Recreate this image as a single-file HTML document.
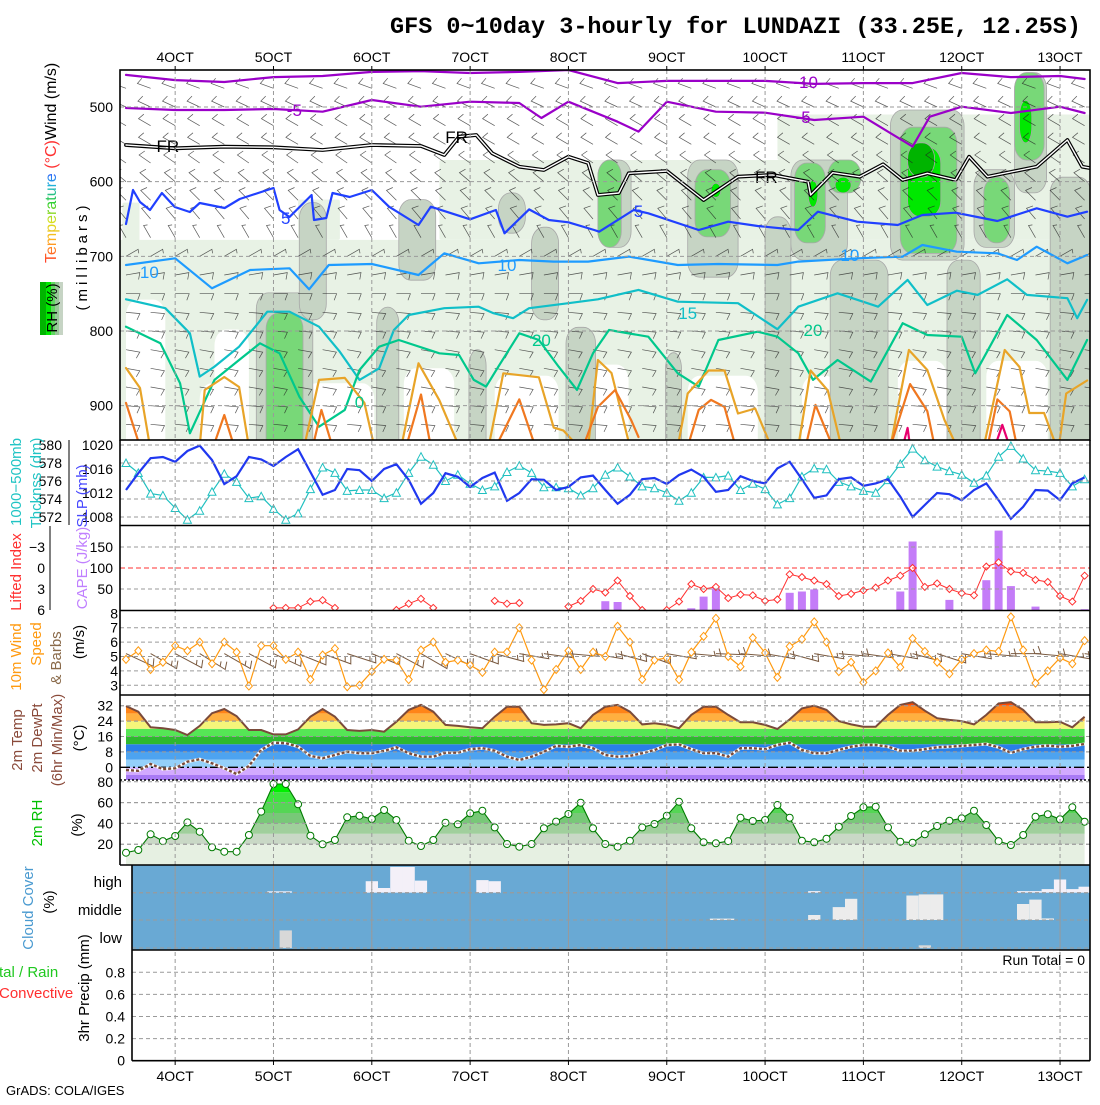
<!DOCTYPE html>
<html><head><meta charset="utf-8">
<style>
body{margin:0;background:#fff;width:1100px;height:1100px;overflow:hidden}
svg text{font-family:"Liberation Sans",sans-serif}
</style></head>
<body>
<svg id="chart" width="1100" height="1100" viewBox="0 0 1100 1100" xmlns="http://www.w3.org/2000/svg">
<defs>
<clipPath id="clipUpper"><rect x="120" y="70" width="970" height="370"/></clipPath>
<clipPath id="clipSlp"><rect x="120" y="440" width="970" height="85.5"/></clipPath>
<clipPath id="clipCape"><rect x="120" y="525.5" width="970" height="85"/></clipPath>
<clipPath id="clipWind"><rect x="120" y="610.5" width="970" height="84.5"/></clipPath>
<clipPath id="clipTempPanel"><rect x="120" y="695" width="970" height="85"/></clipPath>
<clipPath id="clipCloud"><rect x="132" y="865" width="958" height="85"/></clipPath>
<clipPath id="tclip"><polygon id="tclipPoly" points=""/></clipPath>
<clipPath id="rclip"><polygon id="rclipPoly" points=""/></clipPath>
<linearGradient id="rainbow" gradientUnits="userSpaceOnUse" x1="0" y1="0" x2="92" y2="0">
<stop offset="0" stop-color="#ff3a2a"/><stop offset="0.25" stop-color="#ffb020"/><stop offset="0.45" stop-color="#d8e020"/><stop offset="0.65" stop-color="#30d030"/><stop offset="0.85" stop-color="#20b0e0"/><stop offset="1" stop-color="#3050ff"/>
</linearGradient>
</defs>

<text x="1081" y="33" text-anchor="end" font-family="Liberation Mono, monospace" font-weight="bold" font-size="23" textLength="691" lengthAdjust="spacingAndGlyphs" style="font-family:'Liberation Mono',monospace">GFS 0~10day 3-hourly for LUNDAZI (33.25E, 12.25S)</text>

<g id="upper">
  <g id="rhShade" clip-path="url(#clipUpper)"></g>
  <g id="grid"></g>
  <g id="barbsUpper" clip-path="url(#clipUpper)"></g>
  <g id="isotherms" clip-path="url(#clipUpper)"></g>
</g>
<g id="slpPanel" clip-path="url(#clipSlp)"></g>
<g id="capePanel" clip-path="url(#clipCape)"></g>
<g id="windPanel" clip-path="url(#clipWind)"></g>
<g id="tempPanel" clip-path="url(#clipTempPanel)"></g>
<g id="rhPanel"></g>
<g id="cloudPanel" clip-path="url(#clipCloud)">
  <rect x="132" y="865" width="958" height="85" fill="#69a9d4"/>
</g>
<g id="grid2"></g>
<g id="frames" stroke="#000" stroke-width="1.6" fill="none">
  <rect x="120" y="70" width="970" height="370"/>
  <line x1="120" y1="440" x2="120" y2="865"/>
  <line x1="132" y1="865" x2="132" y2="1060.7"/>
  <line x1="1090" y1="440" x2="1090" y2="1060.7"/>
  <line x1="120" y1="525.5" x2="1090" y2="525.5"/>
  <line x1="120" y1="610.5" x2="1090" y2="610.5"/>
  <line x1="120" y1="695" x2="1090" y2="695"/>
  <line x1="120" y1="780" x2="1090" y2="780" stroke-dasharray="2,2"/>
  <line x1="120" y1="865" x2="1090" y2="865"/>
  <line x1="132" y1="950" x2="1090" y2="950"/>
  <line x1="132" y1="1060.7" x2="1090" y2="1060.7"/>
  <line x1="69" y1="440" x2="69" y2="525" stroke-width="1"/>
  <line x1="50" y1="526" x2="50" y2="610" stroke-width="1"/>
</g>
<g id="ticks" font-size="14"></g>

<text transform="translate(56,263) rotate(-90)" font-size="16"><tspan fill="url(#rainbow)">Temperature</tspan><tspan fill="#ff3030"> (°C)</tspan><tspan fill="#000">Wind (m/s)</tspan></text>
<text transform="translate(87,256) rotate(-90)" font-size="15" text-anchor="middle" letter-spacing="4">(millibars)</text>
<g>
  <rect x="40" y="282" width="6" height="53" fill="#00b400"/>
  <rect x="46" y="282" width="5" height="53" fill="#00e800"/>
  <rect x="51" y="282" width="4" height="53" fill="#60d860"/>
  <rect x="55" y="282" width="4" height="53" fill="#98c898"/>
  <rect x="59" y="282" width="4" height="53" fill="#c6d4c4"/>
  <text transform="translate(57,308) rotate(-90)" font-size="15" text-anchor="middle">RH (%)</text>
</g>
<text transform="translate(21,482) rotate(-90)" font-size="15" text-anchor="middle" fill="#20c4c4">1000−500mb</text>
<text transform="translate(41,483) rotate(-90)" font-size="15" text-anchor="middle" fill="#20c4c4">Thcknss (dm)</text>
<text transform="translate(87,496) rotate(-90)" font-size="15" text-anchor="middle" fill="#4848ff">SLP (mb)</text>
<text transform="translate(21,572) rotate(-90)" font-size="15" text-anchor="middle" fill="#ff3030">Lifted Index</text>
<text transform="translate(87,568) rotate(-90)" font-size="15" text-anchor="middle" fill="#c080ff">CAPE (J/kg)</text>
<text transform="translate(21,657) rotate(-90)" font-size="15" text-anchor="middle" fill="#ff9a10">10m Wind</text>
<text transform="translate(41,644) rotate(-90)" font-size="15" text-anchor="middle" fill="#ff9a10">Speed</text>
<text transform="translate(61,658) rotate(-90)" font-size="15" text-anchor="middle" fill="#8a6a4a">&amp; Barbs</text>
<text transform="translate(84,642) rotate(-90)" font-size="15" text-anchor="middle">(m/s)</text>
<text transform="translate(22,740) rotate(-90)" font-size="15" text-anchor="middle" fill="#8a4a3a">2m Temp</text>
<text transform="translate(42,738) rotate(-90)" font-size="15" text-anchor="middle" fill="#8a4a3a">2m DewPt</text>
<text transform="translate(62,740) rotate(-90)" font-size="15" text-anchor="middle" fill="#8a4a3a">(6hr Min/Max)</text>
<text transform="translate(84,738) rotate(-90)" font-size="15" text-anchor="middle">(°C)</text>
<text transform="translate(42,823) rotate(-90)" font-size="15" text-anchor="middle" fill="#00c000">2m RH</text>
<text transform="translate(82,825) rotate(-90)" font-size="15" text-anchor="middle">(%)</text>
<text transform="translate(33,908) rotate(-90)" font-size="15" text-anchor="middle" fill="#4a9ad0">Cloud Cover</text>
<text transform="translate(54,902) rotate(-90)" font-size="15" text-anchor="middle">(%)</text>
<text x="122" y="887" font-size="15" text-anchor="end">high</text>
<text x="122" y="915" font-size="15" text-anchor="end">middle</text>
<text x="122" y="943" font-size="15" text-anchor="end">low</text>
<text transform="translate(89,988) rotate(-90)" font-size="15" text-anchor="middle">3hr Precip (mm)</text>
<text x="-1" y="977" font-size="15" fill="#20c820">tal / Rain</text>
<text x="-1" y="998" font-size="15" fill="#ff3030">Convective</text>
<text x="1085" y="965" font-size="14" text-anchor="end">Run Total = 0</text>
<text x="6" y="1095" font-size="13">GrADS: COLA/IGES</text>
</svg>

<script>
const NS='http://www.w3.org/2000/svg';
// ---------- data ----------
const dayLabels=['4OCT','5OCT','6OCT','7OCT','8OCT','9OCT','10OCT','11OCT','12OCT','13OCT'];
const dayIndex=[4,12,20,28,36,44,52,60,68,76];
const slp=[1012.5,1015.3,1017.8,1018,1017.2,1019,1019.9,1017.5,1013.5,1014.8,
1018,1017.6,1016.5,1018,1019.3,1015.5,1011.7,1012.5,1016,1015.8,
1014,1016,1016.8,1014.2,1010.2,1012,1015.3,1014.7,1013,1014.5,
1015.4,1010.7,1012,1014.3,1014.2,1012.5,1013,1014.6,1014.9,1012.5,
1010.2,1011.7,1014.3,1014.5,1013.5,1015,1015.9,1014.7,1012.2,1012.5,
1014.8,1014,1013.6,1016.1,1017.2,1014.3,1011.2,1011.6,1014.3,1014.6,
1013.2,1013.6,1014.3,1011.4,1008,1010,1012,1011.8,1010.8,1012.5,
1013.6,1010.8,1007.7,1009.7,1012.5,1012.4,1010.8,1013.6,1014.6];
const thickness=[578,576.9,574.6,574.4,573,571.7,572.7,574.8,576.8,575.9,
574.1,574.3,572.9,571.7,572.4,575.1,577.5,576.9,574.9,575,
575,574.1,574.7,576.9,578.7,577.8,576,576.7,575.7,575,
575.4,577,577.7,576.9,575.3,575.3,575.2,574.4,575.2,576.7,
577.5,576.5,575.4,575.2,574.7,573.8,574.7,576.4,576.4,576.6,
575,575.7,575.1,573.4,574.1,576.5,577.4,577.3,575.9,575.4,
574.9,574.7,576.1,577.9,579.6,578.3,577.6,577.1,576.7,575.8,
576.6,578.7,579.9,578.5,577.2,577.1,576.9,575.4,576.2];
const liftedIndex=[null,null,null,null,null,null,null,null,null,null,
null,null,5.7,5.7,5.7,4.8,4.6,5.7,null,null,
null,null,6,5.1,4.4,5.7,null,null,null,null,
4.7,5.1,5,null,null,null,5.5,4.7,3,3.5,
1.8,4,6,null,6,4.8,2.3,3,2.7,4.3,
3.8,3.9,4.7,4.5,0.9,1.3,1.8,2.3,4,3.7,
3.2,2.8,1.8,1.1,0,2.7,2.2,3,3.6,3.9,
-0.2,-0.8,0.5,0.7,1.7,2,4,4.8,1.1];
const capeIdx=[39,40,46,47,48,54,55,56,63,64,67,70,71,72,74,78];
const capeVal=[21,19,4,32,52,41,44,49,44,163,24,71,189,57,8,2];
const windSpeed=[4.8,5.4,4.1,4.6,5.75,5.4,6.0,4.5,6.0,5.3,
2.95,5.75,5.75,4.8,5.3,3.4,5.1,5.55,2.9,3.0,
3.95,4.8,4.75,3.4,5.45,6.0,4.6,4.75,4.4,3.9,
5.3,5.3,7.0,4.75,2.7,4.1,5.4,4.1,5.3,5.0,
7.1,6.0,3.4,4.75,4.9,3.4,5.3,6.4,7.65,5.0,
4.3,6.3,5.25,3.55,5.7,6.2,7.4,6.0,3.95,4.6,
3.2,4.0,5.25,4.25,6.25,5.35,4.6,3.8,4.8,5.2,
5.45,5.35,7.75,5.45,3.15,4.0,4.9,4.5,6.1];
const windDir10=[115,120,118,122,120,118,115,112,110,108,112,118,120,115,110,105,100,98,95,100,105,110,100,95,92,95,100,105,100,95,98,100,105,108,100,95,90,95,100,98];
const temp2m=[31.8,28.9,20.8,20.3,19.4,16.8,21.5,28.1,30.3,26.6,
19.4,19.4,17.1,17.1,19.7,26.3,30.3,26.3,19.4,18.9,
19.4,18.5,23.7,29.8,32.4,28.9,22,21.5,20.8,20.3,
26.3,31.5,31.5,22.9,22,22.3,22.9,20.3,27.2,31.5,
32.4,28.9,22.3,22.9,22,20.3,27.2,31.5,31.5,27.2,
23.4,23.4,22,19.9,24.9,30.6,32,29.8,24,22.3,
21.1,21.1,27.2,32.4,33.8,29.4,25.5,24.6,24,22.3,
27.2,33.2,33.8,29.8,23.4,23.4,23.7,20.8,26.3];
const dew2m=[-1.4,-1.8,1.7,-1,-0.5,2.9,4.2,2.1,-0.5,-3.5,
0.7,9,12.8,12.5,10.7,5.9,4.7,6.4,8.1,7.3,
7.3,8.5,10.4,7.3,5.5,5.5,7.6,7.6,9.4,9.9,
8.6,5.5,3.8,5.5,8.1,11.1,10.7,11.6,9.9,6.4,
5.5,5.9,7.3,9,11.6,11.9,9.4,7.3,7.3,5.5,
9.9,9.9,9.4,11.6,12.8,9,7.3,7.3,9,10.7,
11.6,11.6,10.7,8.6,8.6,9.4,10.4,10.7,11.1,11.6,
12.1,10.4,7.6,9.4,10.7,11.2,10.7,11.1,12.1];
const rh2m=[11.8,14.4,29.5,23,27.9,41,32,17,12.8,12.8,
28.8,51.3,77.9,77.9,58.4,28.2,19.9,24,45.9,47.4,
44.2,52.9,43.3,23.4,18.3,24,40.7,39.1,49.7,52.2,
36.2,20.2,17.6,20.2,35.3,41.7,49,59.9,35.3,20.2,
17.6,23.4,36.2,39.4,47.4,60.9,35.3,21.8,20.9,23,
45.5,42.3,43.3,57.7,45.5,23.4,21.8,25.3,36.8,47.1,
55.5,56.1,36.2,22.4,21.4,29.5,37.5,42.6,44.9,52.2,
38.5,23,19.2,28.8,46.4,48.8,43.9,55.5,41.6];
const cloudHighIdx=[12,13,20,21,22,23,24,29,30,56,73,74,75,76,77,78];
const cloudHighVal=[5,5,42,17,94,94,44,46,42,6,6,6,13,48,13,22];
const cloudMidIdx=[48,49,56,58,59,64,65,66,73,74,75];
const cloudMidVal=[5,5,18,47,77,89,93,93,58,74,6];
const cloudLowIdx=[13,65];
const cloudLowVal=[64,10];
const isoM10T=[0,4,8,12,16,20,24,28,32,36,40,44,48,52,56,60,64,68,72,76,78];
const isoM10P=[457,464,466.5,460,458.5,453,452,454.5,453,450.5,468,465,465,465,469,468,468,454.5,460,458.5,462.5];
const isoM5T=[0,4,8,12,16,20,24,28,32,33.8,36,40,41.7,44,48,52,56,60,64,65.4,68,72,76,78];
const isoM5P=[501.3,504,504,502.7,506.3,490.6,499.6,492.9,494.6,514.7,492.9,519.7,533,492.9,506.3,507.6,517.4,513,553,513,499.6,508,499.6,508];
const isoFRT=[0,4,8,12,16,20,24,25.9,27.1,28.5,29.8,32,34,36,37.6,38.4,40.1,40.9,44,47,49.8,52.6,55.5,55.7,57.5,59.7,61.6,63.2,65.2,67.5,68.6,70.1,74.1,76.6,77.8,78.5];
const isoFRP=[550.9,555.3,553.2,554,557.6,550.9,552.2,564.3,539.8,537.5,562,580,584.4,566.6,575,617.8,615.2,588.8,585.7,624.5,593.3,591,600,617.8,588,593.3,576.7,597.8,588.8,597.8,566.6,593.3,580,544.2,580,582];
const iso5T=[0,0.57,1.14,1.95,2.92,3.97,5.19,6,8.03,9.25,12,12.5,13.3,15.1,15.3,16.3,16.8,18.2,20,21.4,23.8,24.8,28,30.1,30.8,32.8,34.4,36,38.1,38.5,41.3,42.5,46.6,49,51.4,54.7,56.3,59.5,62.8,64.8,67.5,70.9,74.1,76.6,78.2];
const iso5P=[656.7,611.2,627.2,638,615.2,633.9,640.6,628.6,635.3,623.2,608.5,638,647.3,617.8,651.3,648.7,615.2,620.5,611.2,633.5,658,633.5,650.4,638,669.1,637.1,651.3,654.4,664.7,667,638,642.4,664.7,653.6,659.4,664.7,640.2,653.6,658,644.6,641.6,652.7,635.7,646.9,640.2];
const iso10T=[0,4,7,10.1,13.3,14.9,16.5,20,23.8,25.9,28.7,32,34.8,37.6,40.9,44.9,48.2,53,54.7,59.5,63.2,64.8,67.6,70.9,72.5,74.1,76.6,78.2];
const iso10P=[711.6,702.6,742.8,718.3,716,744.1,711.6,710.2,725,695.9,709.3,704.9,707.1,707.1,700.4,711.6,710.2,711.6,707.1,702.6,700.4,684.8,693.8,695.9,704.9,687.1,709.3,698.2];
const iso15T=[0,3.2,5.2,6,7.2,9.2,11.5,13.3,15.7,17.4,19,20.6,21.8,23,25.9,28.7,29.9,31.5,32.8,36,38.4,41.7,44.9,49.8,53,54.7,57.9,61.2,63.6,65.2,67.6,69.3,71.7,73.3,76.6,77.4,78.2];
const iso15P=[757.5,769.5,803,861.1,847.7,821,774.1,774.1,794.2,827.7,865.5,849.9,798.6,778.5,769.5,767.4,776.2,782.9,769.5,762.8,757.5,745,760.7,762.8,797.6,767.4,749.5,767.4,731.6,765.1,746,751.7,730.7,751.7,756.1,782.9,758.4];
const iso20T=[0,2.8,4.4,5.2,7.2,9.2,10.9,12.5,14.1,15.7,17.8,19,20.6,22.2,25.5,27.1,28.3,29.3,30.3,32,33.6,35.2,36.7,38,39.3,42.5,44.9,46.6,48.2,51.4,53,54.7,55.9,57.9,60.6,63.2,65.2,68,69.1,71.7,74.1,76.6,78.2];
const iso20P=[794.2,816.4,870,937,865.5,838.8,816.4,829.8,887.9,928.1,905.7,852.2,821,812,829.8,832.1,865.5,874.5,847.7,803,812,847.7,878.9,829.8,798.6,807.6,856.6,874.5,812,800.9,807.6,829.8,865.5,838.8,867.8,789.6,805.3,807.6,856.6,778.5,812,865.5,812];
const iso25T=[[0,1.14,1.95],[6,6.4,8,9.2,10],[14.5,15.7,17.8,19.4,20.2],[22.4,23.8,25.5,27.1],[29.5,30.7,33.6,34.8,35.6,36.8],[37.6,38.4,39.5,41],[44.9,45.7,47.4,48.7,49.8,51.2,52.5],[54.7,55.7,57.1,58.2],[62.2,63.7,65.2,66.6,67.6],[69.8,71.5,72.7,73.5,74.7,75.7],[75.9,76.5,78.2]];
const iso25P=[[849.5,876.3,955],[955,879,861.6,875,955],[955,865.5,862.8,896.3,955],[955,843.2,892.8,955],[955,856.6,862,929.4,933.4,955],[955,838.8,856.2,955],[955,883.7,852.9,852.9,910.5,903.8,955],[955,852.9,879.7,955],[955,825.4,852.2,919.2,955],[955,825.4,848.2,909.8,909.8,955],[955,883.7,866.3]];
const iso30T=[[0,1.14],[7.1,8,8.8],[15.2,15.9,16.8],[22.8,24,24.8],[30.1,32,33.3],[37.2,38.4,39.8,41.1,41.7],[45.7,46.6,47.6,48.7,49.6],[55.3,56.1,57.5],[62.2,63.8,65.2,65.8],[70.1,70.9,71.9,72.5]];
const iso30P=[[896.3,955],[955,912.5,955],[955,905.8,955],[955,885,955],[955,891.6,955],[955,901.7,879,919.2,942],[955,905.7,892.3,901.7,955],[955,898.9,955],[955,871.1,907.2,955],[955,891.6,907.7,955]];
const iso35T=[[63.2,63.6,63.8],[70.7,71.3,71.9]];
const iso35P=[[955,929.8,955],[955,925.8,955]];
const isoLabelT=[55.3,13.7,55.1,13,41.7,1.9,31,58.9,45.7,33.8,55.9,19,3.4,26.9,52.1];
const isoLabelP=[466.5,504,513.4,648.6,639.3,721,711.6,698.2,775.8,812,798.6,895,552,540,593.7];
const isoLabelText=['-10','-5','-5','5','5','10','10','10','15','20','20','0','FR','FR','FR'];
const isoLabelColor=['#9a00c8','#9a00c8','#9a00c8','#2040ff','#2040ff','#1e9bff','#1e9bff','#1e9bff','#10bfc8','#00c88c','#00c88c','#00c88c','#000','#000','#000'];
const blobT0=[-0.5,25.5,53,-0.3,14,36, 0,7.2,6,14.5,22.6,30,38,45.7,55,62.8,70, 10.6,14.1,20.4,22.2,27.9,30.3,33,35.8,38.4,45.7,52,54.1,57.3,62.2,66.8,69,72.3,75.2,43.9, 11.4,38.4,46.3,54.4,57.1,63,69.8,72.3, 47.6,55.5,57.7,63.6,72.7, 63.6];
const blobT1=[79,79,79,1.1,17.4,53, 3.2,10,10,20.2,26.7,35.2,40.9,51.4,57.9,66.8,75, 15.2,16.3,22.2,25.2,29.3,32.5,35.2,38.2,41.1,49.8,54.1,58.7,62,68.2,69.5,72.3,74.9,78.5,45.2, 14.4,40.3,49.2,56.9,59.8,67.6,71.9,74.7, 48.4,56.3,59,66.3,73.7, 65.8];
const blobP0=[678,571,510,628,624,600, 758,798,870,870,850,860,845,860,860,840,840, 749,628,768,624,825,615,661,795,571,571,647,571,705,504,705,584,454,594,829, 776,571,584,575,571,527,594,454, 602,598,594,554,491, 548];
const blobP1=[1000,678,571,749,678,678, 1000,1000,1000,1000,1000,1000,1000,1000,1000,1000,1000, 1000,785,1000,732,1000,669,785,1000,688,728,1000,705,1000,705,1000,688,615,1000,1000, 1000,688,674,682,615,696,682,571, 621,634,615,647,548, 594];
const blobLev=[1,1,1,1,1,1, 0,0,0,0,0,0,0,0,0,0,0, 2,2,2,2,2,2,2,2,2,2,2,2,2,2,2,2,2,2,2, 3,3,3,3,3,3,3,3, 4,4,4,4,4, 5];
const barbLevels=[475,500,525,550,575,600,625,650,675,700,725,750,775,800,825,850,875,900,925,950];
const barbDirs=[290,295,300,300,305,310,315,320,330,60,80,90,95,95,100,100,100,95,95,95];
const barbSpeeds=[10,10,10,10,10,10,10,10,5,5,10,10,10,10,10,10,10,10,10,10];
const pressTicks=[500,600,700,800,900];
const thkTicks=[572,574,576,578,580];
const slpTicks=[1008,1012,1016,1020];
const liTicks=[-3,0,3,6];
const capeTicks=[50,100,150];
const windTicks=[3,4,5,6,7,8];
const tempTicks=[0,8,16,24,32];
const rhTicks=[20,40,60,80];
const precipTicks=[0,0.2,0.4,0.6,0.8];
const tempBandLo=[-12,-4,0,4,8,12,16,20,24,28,32];
const tempBandHi=[-4,0,4,8,12,16,20,24,28,32,45];
const tempBandColor=['#a87af5','#d2aaff','#94d0fa','#4da3f0','#2a7fe8','#2eb82e','#55e655','#f5f57a','#ffb040','#ff8418','#ff4a00'];
const rhBandLo=[0,20,30,40,50,60,70,80];
const rhBandHi=[20,30,40,50,60,70,80,100];
const rhBandColor=['#e6f0e2','#c9d8c6','#a0cf9c','#78c878','#55d655','#3ee43e','#00f000','#00c400'];

// ---------- scales ----------
const X0=126, DX=12.29;
function xs(t){return X0+DX*t;}
function yP(p){return 107+(p-500)*0.7467;}
function ySLP(v){return 445+(1020-v)*6;}
function yThk(v){return 445+(580-v)*9;}
function yCape(v){return 610-v*0.42;}
function yLI(v){return 568+v*7;}
function yWind(v){return 613.3+(8-v)*14.4;}
function yTmp(v){return 767.3-v*1.925;}
function yRH(v){return 865-v*1.04;}
function yPr(v){return 1060.7-v*110.5;}

function mk(tag,parent,attrs){const e=document.createElementNS(NS,tag);for(const k in attrs)e.setAttribute(k,attrs[k]);parent.appendChild(e);return e;}
function pathFrom(ts,vs,xf,yf){let d='',pen=false;for(let i=0;i<vs.length;i++){const v=vs[i];if(v===null){pen=false;continue;}d+=(pen?'L':'M')+xf(ts[i]).toFixed(1)+','+yf(v).toFixed(1);pen=true;}return d;}
const idx=[];for(let i=0;i<79;i++)idx.push(i);
const G=id=>document.getElementById(id);

// ---------- RH shading ----------
const lvColor=['#ffffff','#e8f2e5','#c6d4c4','#78d878','#00e800','#00b400'];
for(let k=0;k<blobT0.length;k++){
  const x0=xs(blobT0[k]),x1=xs(blobT1[k]),y0=yP(blobP0[k]),y1=yP(blobP1[k]);
  const w=x1-x0,h=y1-y0;
  const lv=blobLev[k];
  const r=mk('rect',G('rhShade'),{x:x0.toFixed(1),y:y0.toFixed(1),width:w.toFixed(1),height:h.toFixed(1),
    rx:(lv===1?2:Math.min(w/2,12)).toFixed(1),ry:(lv===1?2:Math.min(h/2,16)).toFixed(1),fill:lvColor[lv],
    stroke:(lv>=2?'#a8a8a8':'none'),'stroke-width':0.8});
  
  
}

// ---------- gridlines ----------
for(let k=0;k<dayIndex.length;k++){
  const x=xs(dayIndex[k]);
  const l=mk('line',G('grid2'),{x1:x,y1:70,x2:x,y2:1060.7,stroke:'#9a9a9a','stroke-width':1,'stroke-dasharray':'4,3'});
  
  
  const t1=mk('text',G('ticks'),{x:x,y:62,'text-anchor':'middle','font-size':14});
  t1.textContent=dayLabels[k];
  
  
  const t2=mk('text',G('ticks'),{x:x,y:1081,'text-anchor':'middle','font-size':14});
  t2.textContent=dayLabels[k];
  
  
  const tk=mk('line',G('ticks'),{x1:x,y1:66,x2:x,y2:70,stroke:'#000'});
  
  
  const tk2=mk('line',G('ticks'),{x1:x,y1:1060.7,x2:x,y2:1065,stroke:'#000'});
  
  
}
function hgrid(y,x0,color,dash){
  const l=mk('line',G('grid2'),{x1:x0,y1:y,x2:1090,y2:y,stroke:color,'stroke-width':1,'stroke-dasharray':dash});
  
  
}
function tickLabel(x,y,txt,anchor){
  const t=mk('text',G('ticks'),{x:x,y:y+5,'text-anchor':anchor||'end','font-size':14});
  t.textContent=txt;
  
  
}
pressTicks.forEach(p=>{hgrid(yP(p),120,'#9a9a9a','4,3');tickLabel(113,yP(p),String(p));});
thkTicks.forEach(v=>{hgrid(yThk(v),120,'#9a9a9a','4,3');tickLabel(62,yThk(v),String(v));});
slpTicks.forEach(v=>{tickLabel(113,ySLP(v),String(v));});
liTicks.forEach(v=>{tickLabel(45,yLI(v),(v<0?'−':'')+Math.abs(v));});
capeTicks.forEach(v=>{hgrid(yCape(v),120,v===100?'#ff3030':'#9a9a9a',v===100?'5,3':'4,3');tickLabel(113,yCape(v),String(v));});
windTicks.forEach(v=>{if(v<8)hgrid(yWind(v),120,'#9a9a9a','4,3');tickLabel(118,yWind(v),String(v));});
tempTicks.forEach(v=>{if(v>0)hgrid(yTmp(v),120,'#9a9a9a','4,3');tickLabel(113,yTmp(v),String(v));});
rhTicks.forEach(v=>{hgrid(yRH(v),120,'#9a9a9a','4,3');tickLabel(113,yRH(v),String(v));});
[892.7,920,948].forEach(y=>hgrid(y,132,'#9a9a9a','4,3'));
precipTicks.forEach(v=>{if(v>0)hgrid(yPr(v),132,'#9a9a9a','4,3');tickLabel(125,yPr(v),String(v));});

// ---------- upper wind barbs ----------
for(let t=0;t<=78;t+=2){
  for(let k=0;k<barbLevels.length;k++){
    const x=xs(t),y=yP(barbLevels[k]);
    const a=barbDirs[k]*Math.PI/180,L=14;
    const ex=x+L*Math.sin(a),ey=y-L*Math.cos(a);
    const fa=a+Math.PI/2+0.35,fl=barbSpeeds[k]>=10?7:4;
    const fx=ex+fl*Math.sin(fa),fy=ey-fl*Math.cos(fa);
    const b=mk('path',G('barbsUpper'),{d:`M${x.toFixed(1)},${y.toFixed(1)}L${ex.toFixed(1)},${ey.toFixed(1)}L${fx.toFixed(1)},${fy.toFixed(1)}`,stroke:'#222',fill:'none','stroke-width':0.7,'stroke-opacity':0.75});
    
    
  }
}

// ---------- isotherms ----------
function iso(ts,ps,color,w,name){
  const p=mk('path',G('isotherms'),{d:pathFrom(ts,ps,xs,yP),stroke:color,'stroke-width':w,fill:'none','stroke-linejoin':'round','stroke-linecap':'round'});
  
  
  return p;
}
iso(isoM10T,isoM10P,'#9a00c8',2.2,'isotherm-minus10');
iso(isoM5T,isoM5P,'#9a00c8',2.2,'isotherm-minus5');
iso(isoFRT,isoFRP,'#000',3.8,'freezing-level-outer');
iso(isoFRT,isoFRP,'#fff',1.4,'freezing-level-inner');
iso(iso5T,iso5P,'#2040ff',2.2,'isotherm-5');
iso(iso10T,iso10P,'#1e9bff',2.2,'isotherm-10');
iso(iso15T,iso15P,'#10bfc8',2.2,'isotherm-15');
iso(iso20T,iso20P,'#00c88c',2.2,'isotherm-20');
for(let s=0;s<iso25T.length;s++) iso(iso25T[s],iso25P[s],'#e8a428',2.2,'isotherm-25');
for(let s=0;s<iso30T.length;s++) iso(iso30T[s],iso30P[s],'#f07820',2.2,'isotherm-30');
for(let s=0;s<iso35T.length;s++) iso(iso35T[s],iso35P[s],'#e8006e',2.2,'isotherm-35');
for(let k=0;k<isoLabelT.length;k++){
  const t=mk('text',G('isotherms'),{x:xs(isoLabelT[k]),y:yP(isoLabelP[k])+6,'text-anchor':'middle','font-size':17,fill:isoLabelColor[k]});
  t.textContent=isoLabelText[k];
  
  
}

// ---------- SLP / thickness ----------
const thkLine=mk('path',G('slpPanel'),{d:pathFrom(idx,thickness,xs,yThk),stroke:'#20c0c0','stroke-width':1.2,fill:'none'});


for(let i=0;i<thickness.length;i++){
  const x=xs(i),y=yThk(thickness[i]);
  const m=mk('path',G('slpPanel'),{d:`M${(x-4).toFixed(1)},${(y+3.5).toFixed(1)}L${(x+4).toFixed(1)},${(y+3.5).toFixed(1)}L${x.toFixed(1)},${(y-4).toFixed(1)}Z`,fill:'#fff',stroke:'#20c0c0','stroke-width':1});
  
  
}
const slpLine=mk('path',G('slpPanel'),{d:pathFrom(idx,slp,xs,ySLP),stroke:'#2038f0','stroke-width':2.2,fill:'none'});



// ---------- CAPE / LI ----------
for(let k=0;k<capeIdx.length;k++){
  const x=xs(capeIdx[k]),y=yCape(capeVal[k]);
  const b=mk('rect',G('capePanel'),{x:(x-4).toFixed(1),y:y.toFixed(1),width:8,height:(610.5-y).toFixed(1),fill:'#c47cf8'});
  
  
}
const liLine=mk('path',G('capePanel'),{d:pathFrom(idx,liftedIndex,xs,yLI),stroke:'#ff3030','stroke-width':1,fill:'none'});


for(let i=0;i<liftedIndex.length;i++){
  if(liftedIndex[i]===null)continue;
  const x=xs(i),y=yLI(liftedIndex[i]);
  const m=mk('path',G('capePanel'),{d:`M${x-3.5},${y}L${x},${y-3.5}L${x+3.5},${y}L${x},${y+3.5}Z`,fill:'#fff',stroke:'#ff3030','stroke-width':1});
  
  
}

// ---------- 10m wind ----------
for(let k=0;k<windDir10.length;k++){
  const x=xs(2*k),y=yWind(5.2);
  const a=windDir10[k]*Math.PI/180,L=30;
  const ex=x+L*Math.sin(a),ey=y-L*Math.cos(a);
  const fa=a-Math.PI/2-0.35;
  const mx=x+0.8*L*Math.sin(a),my=y-0.8*L*Math.cos(a);
  const b=mk('path',G('windPanel'),{d:`M${x.toFixed(1)},${y.toFixed(1)}L${ex.toFixed(1)},${ey.toFixed(1)}L${(ex+8*Math.sin(fa)).toFixed(1)},${(ey-8*Math.cos(fa)).toFixed(1)}M${mx.toFixed(1)},${my.toFixed(1)}L${(mx+5*Math.sin(fa)).toFixed(1)},${(my-5*Math.cos(fa)).toFixed(1)}`,stroke:'#7a5a40','stroke-width':1,fill:'none'});
  
  
}
const wLine=mk('path',G('windPanel'),{d:pathFrom(idx,windSpeed,xs,yWind),stroke:'#ff9a10','stroke-width':1.2,fill:'none'});


for(let i=0;i<windSpeed.length;i++){
  const x=xs(i),y=yWind(windSpeed[i]);
  const m=mk('path',G('windPanel'),{d:`M${x-3.5},${y}L${x},${y-4}L${x+3.5},${y}L${x},${y+4}Z`,fill:'#fff',stroke:'#ff9a10','stroke-width':1});
  
  
}

// ---------- temperature ----------
let tpts=`${xs(0)},782 `;
for(let i=0;i<temp2m.length;i++) tpts+=`${xs(i).toFixed(1)},${yTmp(temp2m[i]).toFixed(1)} `;
tpts+=`${xs(temp2m.length-1)},782`;
G('tclipPoly').setAttribute('points',tpts);
const tband=mk('g',G('tempPanel'),{'clip-path':'url(#tclip)'});


for(let k=0;k<tempBandLo.length;k++){
  const y0=yTmp(tempBandHi[k]),y1=yTmp(tempBandLo[k]);
  const r=mk('rect',tband,{x:120,y:y0.toFixed(1),width:970,height:(y1-y0).toFixed(1),fill:tempBandColor[k]});
  
  
}
tempTicks.forEach(v=>{if(v>0){const l=mk('line',G('tempPanel'),{x1:120,y1:yTmp(v),x2:1090,y2:yTmp(v),stroke:'#9a9a9a','stroke-dasharray':'4,3'});
  
  }});
const zl=mk('line',G('tempPanel'),{x1:120,y1:yTmp(0),x2:1090,y2:yTmp(0),stroke:'#000','stroke-width':1.3,'stroke-dasharray':'10,3,2,3'});


const dw=mk('path',G('tempPanel'),{d:pathFrom(idx,dew2m,xs,yTmp),stroke:'#fff','stroke-width':3,fill:'none'});


const dl=mk('path',G('tempPanel'),{d:pathFrom(idx,dew2m,xs,yTmp),stroke:'#7a4a3a','stroke-width':2.4,fill:'none','stroke-dasharray':'3,2'});


const tl=mk('path',G('tempPanel'),{d:pathFrom(idx,temp2m,xs,yTmp),stroke:'#7a4a3a','stroke-width':2,fill:'none'});



// ---------- RH ----------
let rpts=`${xs(0)},865 `;
for(let i=0;i<rh2m.length;i++) rpts+=`${xs(i).toFixed(1)},${yRH(rh2m[i]).toFixed(1)} `;
rpts+=`${xs(rh2m.length-1)},865`;
G('rclipPoly').setAttribute('points',rpts);
const rband=mk('g',G('rhPanel'),{'clip-path':'url(#rclip)'});


for(let k=0;k<rhBandLo.length;k++){
  const y0=yRH(rhBandHi[k]),y1=yRH(rhBandLo[k]);
  const r=mk('rect',rband,{x:120,y:y0.toFixed(1),width:970,height:(y1-y0).toFixed(1),fill:rhBandColor[k]});
  
  
}
rhTicks.forEach(v=>{if(v<80){const l=mk('line',G('rhPanel'),{x1:120,y1:yRH(v),x2:1090,y2:yRH(v),stroke:'#9a9a9a','stroke-dasharray':'4,3'});
  
  }});
const rl=mk('path',G('rhPanel'),{d:pathFrom(idx,rh2m,xs,yRH),stroke:'#007a00','stroke-width':1.1,fill:'none'});


for(let i=0;i<rh2m.length;i++){
  const c=mk('circle',G('rhPanel'),{cx:xs(i).toFixed(1),cy:yRH(rh2m[i]).toFixed(1),r:3.5,fill:'#fff',stroke:'#007a00','stroke-width':1});
  
  
}

// ---------- cloud ----------
function cloudBars(ids,vals,base,color){
  for(let k=0;k<ids.length;k++){
    const h=vals[k]/100*27.5, x=xs(ids[k])-DX/2;
    const r=mk('rect',G('cloudPanel'),{x:x.toFixed(1),y:(base-h).toFixed(1),width:DX.toFixed(2),height:h.toFixed(1),fill:color});
    
    
  }
}
cloudBars(cloudHighIdx,cloudHighVal,892.7,'#f4f0f8');
cloudBars(cloudMidIdx,cloudMidVal,920,'#ececec');
cloudBars(cloudLowIdx,cloudLowVal,948,'#d8d8d8');
[892.7,920,948].forEach(y=>{const l=mk('line',G('cloudPanel'),{x1:132,y1:y,x2:1090,y2:y,stroke:'#9a9a9a','stroke-dasharray':'4,3'});
  
  });
dayIndex.forEach(t=>{const l=mk('line',G('cloudPanel'),{x1:xs(t),y1:865,x2:xs(t),y2:950,stroke:'#9a9a9a','stroke-dasharray':'4,3'});
  
  });
</script>
</body></html>
